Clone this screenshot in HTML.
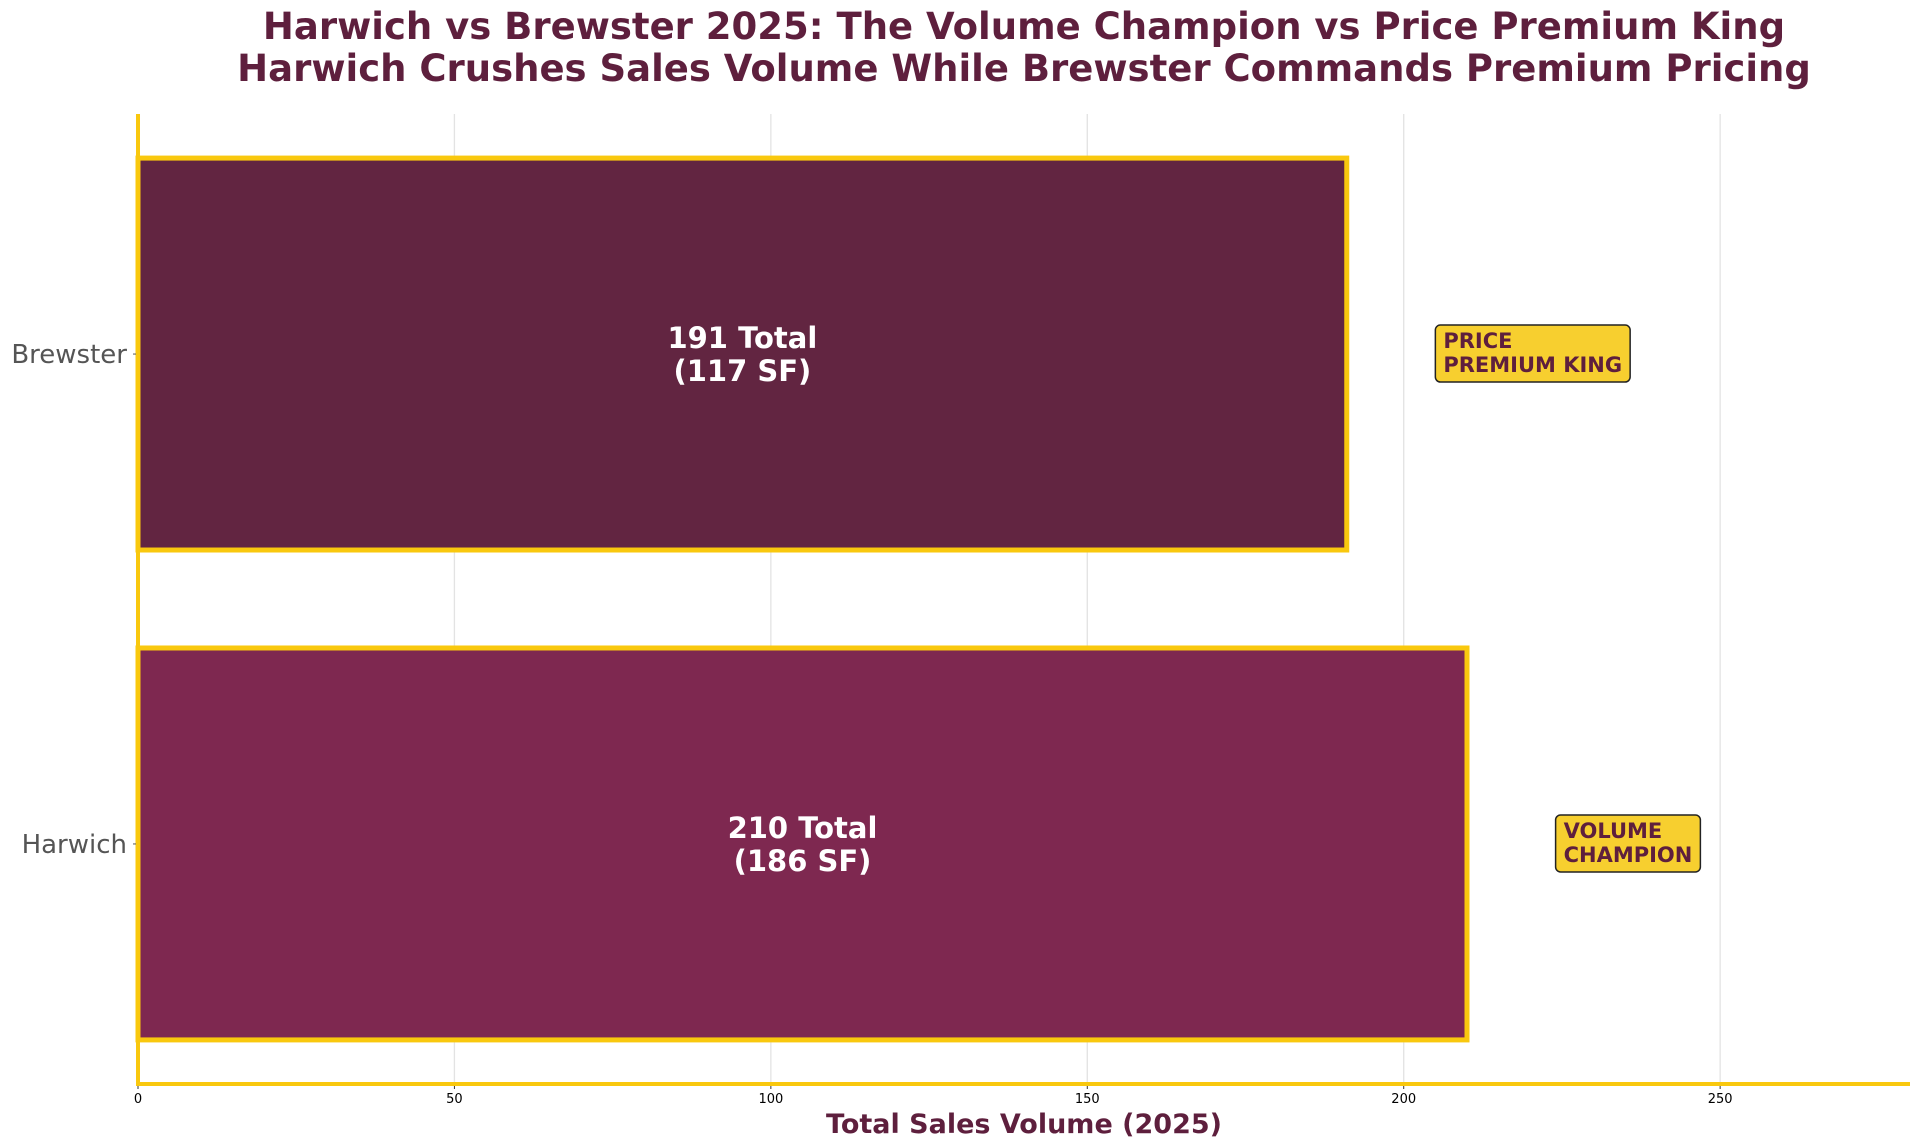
<!DOCTYPE html>
<html><head><meta charset="utf-8"><style>
body{margin:0;background:#fff;}
svg{display:block;font-family:"DejaVu Sans","Liberation Sans",sans-serif;}
</style></head><body>
<svg id="chart" width="1920" height="1148" viewBox="0 0 1920 1148">
<text x="1024" y="39" text-anchor="middle" font-size="37" font-weight="bold" fill="#5E1F3D">Harwich vs Brewster 2025: The Volume Champion vs Price Premium King</text>
<text x="1024" y="81" text-anchor="middle" font-size="37" font-weight="bold" fill="#5E1F3D">Harwich Crushes Sales Volume While Brewster Commands Premium Pricing</text>
<g id="grid"></g>
<g id="bars"></g>
<g id="axes"></g>
<text x="1024" y="1133" text-anchor="middle" font-size="27" font-weight="bold" fill="#5E1F3D">Total Sales Volume (2025)</text>
</svg>
<script>
const categories = ["Harwich", "Brewster"];
const totals = [210, 191];
const sfValues = [186, 117];
const badges = [["VOLUME", "CHAMPION"], ["PRICE", "PREMIUM KING"]];
const xTicks = [0, 50, 100, 150, 200, 250];

const NS = "http://www.w3.org/2000/svg";
const L = 138, R = 1910, T = 114, B = 1084;
const xMin = 0, xMax = 280, yMin = -0.49, yMax = 1.49;
const xs = v => L + (v - xMin) / (xMax - xMin) * (R - L);
const ys = v => B - (v - yMin) / (yMax - yMin) * (B - T);
const barColors = ["#7E2850", "#622541"];
function mk(tag, attrs, parent) {
  const e = document.createElementNS(NS, tag);
  for (const k in attrs) e.setAttribute(k, attrs[k]);
  parent.appendChild(e);
  return e;
}
const grid = document.getElementById("grid"), bars = document.getElementById("bars"), axes = document.getElementById("axes");
xTicks.forEach(t => {
  const g = mk("line", {x1: xs(t), x2: xs(t), y1: T, y2: B, stroke: "#e3e3e3", "stroke-width": 1.3}, grid);
  
  
  const tk = mk("line", {x1: xs(t), x2: xs(t), y1: B, y2: B + 5, stroke: "#333", "stroke-width": 1}, axes);
  
  
  const lb = mk("text", {x: xs(t), y: B + 19, "text-anchor": "middle", "font-size": 13, fill: "#000"}, axes);
  lb.textContent = t;
  
  
});
const bh = 0.8;
categories.forEach((c, i) => {
  const y0 = ys(i + bh / 2), y1 = ys(i - bh / 2);
  const r = mk("rect", {x: xs(0), y: y0, width: xs(totals[i]) - xs(0), height: y1 - y0, fill: barColors[i], stroke: "#F9C80E", "stroke-width": 5}, bars);
  
  
  const cx = xs(totals[i] / 2), cy = ys(i);
  const t1 = mk("text", {x: cx, y: cy - 6, "text-anchor": "middle", "font-size": 29, "font-weight": "bold", fill: "#fff"}, bars);
  t1.textContent = totals[i] + " Total";
  
  
  const t2 = mk("text", {x: cx, y: cy + 27, "text-anchor": "middle", "font-size": 29, "font-weight": "bold", fill: "#fff"}, bars);
  t2.textContent = "(" + sfValues[i] + " SF)";
  
  
  // badge
  const bx = xs(totals[i] + 14), lines = badges[i];
  const bg = mk("rect", {x: bx, y: cy - 29, width: 10, height: 57, rx: 5, fill: "#F7CF2F", stroke: "#222", "stroke-width": 1.5}, bars);
  
  
  let maxW = 0;
  lines.forEach((s, j) => {
    const bt = mk("text", {x: bx + 8, y: cy - 6 + j * 24, "font-size": 21, "font-weight": "bold", fill: "#5E1F3D"}, bars);
    bt.textContent = s;
    
    
    maxW = Math.max(maxW, bt.getComputedTextLength());
  });
  bg.setAttribute("width", maxW + 16);
  const yl = mk("text", {x: L - 11, y: cy + 9, "text-anchor": "end", "font-size": 26, fill: "#555"}, axes);
  yl.textContent = c;
  
  
  const yt = mk("line", {x1: L - 5, x2: L, y1: cy, y2: cy, stroke: "#555", "stroke-width": 1}, axes);
  
  
});
const ls = mk("line", {x1: L, x2: L, y1: T, y2: B + 2, stroke: "#F9C80E", "stroke-width": 4}, axes);


const bs = mk("line", {x1: L - 2, x2: R, y1: B, y2: B, stroke: "#F9C80E", "stroke-width": 4}, axes);


</script>
</body></html>
